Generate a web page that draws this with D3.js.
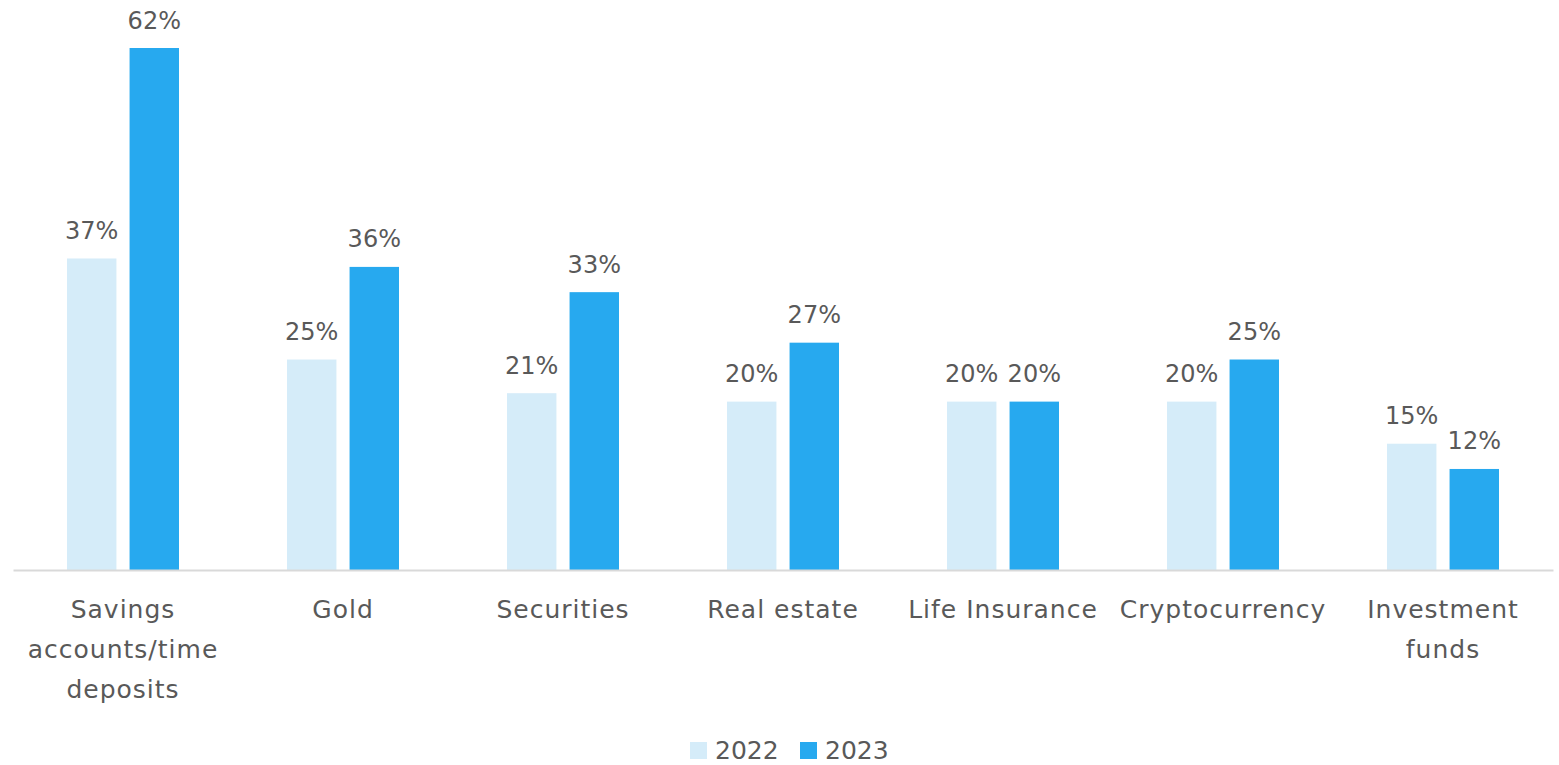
<!DOCTYPE html>
<html>
<head>
<meta charset="utf-8">
<script src="https://cdn.jsdelivr.net/npm/d3@7"></script>
<style>
  html, body { margin: 0; padding: 0; background: #fff; }
  svg { display: block; }
</style>
</head>
<body>
<svg id="chart" width="1559" height="765"></svg>
<script>
// Investment preferences by asset class, share of respondents (%)
const categories = [
  ["Savings", "accounts/time", "deposits"],
  ["Gold"],
  ["Securities"],
  ["Real estate"],
  ["Life Insurance"],
  ["Cryptocurrency"],
  ["Investment", "funds"]
];
const seriesNames = ["2022", "2023"];
const values2022 = [37, 25, 21, 20, 20, 20, 15];
const values2023 = [62, 36, 33, 27, 20, 25, 12];
const colors = ["#d5ecf9", "#27a9ef"];

const FONT = "'DejaVu Sans', sans-serif";
const TEXT = "#595959";

const svg = d3.select("#chart");

const keys = categories.map((c, i) => i);
const x0 = d3.scaleBand().domain(keys).range([13, 1553]).paddingInner(0).paddingOuter(0);
const x1 = d3.scaleBand().domain(seriesNames).range([54, 166]).paddingInner(0.21).paddingOuter(0);
const y = d3.scaleLinear().domain([0, 62]).range([570, 48]);

const rows = keys.map(i => ({ i, vals: [values2022[i], values2023[i]] }));

const groups = svg.append("g").selectAll("g")
  .data(rows).join("g")
  .attr("transform", d => `translate(${x0(d.i)},0)`);

groups.selectAll("rect")
  .data(d => d.vals.map((v, k) => ({ k, v })))
  .join("rect")
  .attr("x", d => x1(seriesNames[d.k]))
  .attr("width", x1.bandwidth())
  .attr("y", d => y(d.v))
  .attr("height", d => y(0) - y(d.v))
  .attr("fill", d => colors[d.k]);

groups.selectAll("text.val")
  .data(d => d.vals.map((v, k) => ({ k, v })))
  .join("text")
  .attr("class", "val")
  .attr("x", d => x1(seriesNames[d.k]) + x1.bandwidth() / 2)
  .attr("y", d => y(d.v) - 19.5)
  .attr("text-anchor", "middle")
  .attr("font-family", FONT)
  .attr("font-size", 24)
  .attr("fill", TEXT)
  .text(d => d.v + "%");

// category axis
const xAxis = d3.axisBottom(x0).tickSize(0).tickFormat("");
const axisG = svg.append("g").attr("transform", `translate(0,${y(0)})`).call(xAxis);
axisG.select(".domain").attr("stroke", "#d9d9d9").attr("stroke-width", 2);
axisG.selectAll(".tick").each(function(i) {
  const t = d3.select(this).append("text")
    .attr("text-anchor", "middle")
    .attr("font-family", FONT)
    .attr("font-size", 25)
    .attr("letter-spacing", 1)
    .attr("fill", TEXT);
  categories[i].forEach((line, j) => {
    t.append("tspan").attr("x", 0).attr("y", 48 + j * 40).text(line);
  });
});

// legend
const legend = svg.append("g").attr("transform", "translate(690,742)");
const item = legend.selectAll("g").data(seriesNames).join("g")
  .attr("transform", (d, k) => `translate(${k * 110},0)`);
item.append("rect").attr("width", 17).attr("height", 17).attr("fill", (d, k) => colors[k]);
item.append("text")
  .attr("x", 25).attr("y", 17)
  .attr("font-family", FONT).attr("font-size", 25).attr("fill", TEXT)
  .text(d => d);
</script>
</body>
</html>
